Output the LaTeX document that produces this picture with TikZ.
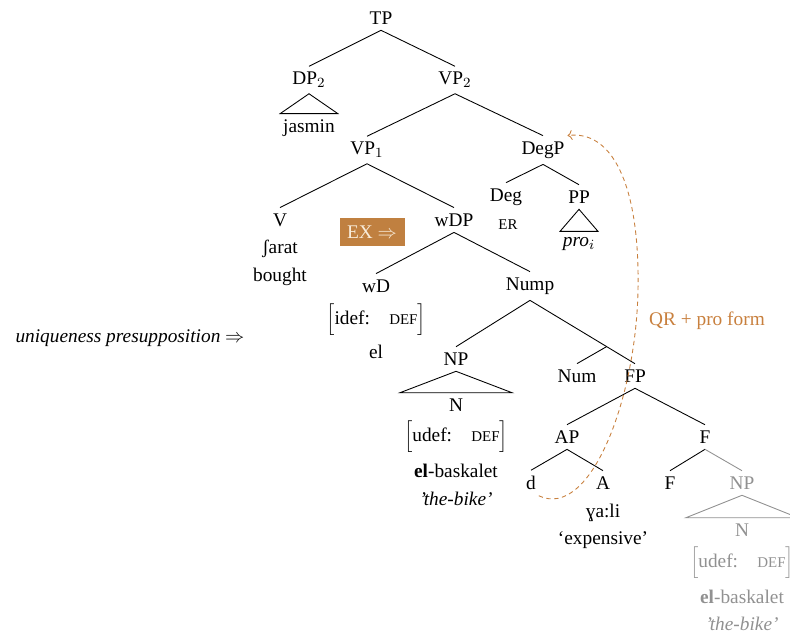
\documentclass[tikz,border=0pt]{standalone}
\usepackage{fontspec}
\setmainfont{Liberation Serif}
\usetikzlibrary{calc, arrows.meta}
\definecolor{qrorange}{RGB}{200, 128, 62}
\definecolor{exbrown}{RGB}{192, 128, 64}
\definecolor{excream}{RGB}{248, 236, 218}
\definecolor{copygray}{RGB}{145, 145, 145}
\newcommand{\fsc}[1]{{\fontsize{8.5}{9}\selectfont #1}}
\newcommand{\featbox}[2]{$\Big[$#1\quad\fsc{#2}$\Big]$}

\begin{document}
\begin{tikzpicture}[x=0.02cm, y=-0.02cm, font=\fontsize{11}{13}\selectfont,
    every node/.style={inner xsep=1.5pt, inner ysep=3.2pt},
    branch/.style={line width=0.5pt},
    copy/.style={text=copygray},
    exbox/.style={fill=exbrown, text=excream, inner sep=0pt, minimum width=1.3cm, minimum height=0.56cm}]
  \useasboundingbox (0,0) rectangle (790,633);

  % upper tree
  \node (tp) at (381,18) {TP};
  \node (dp2) at (309,80) {DP$_2$};
  \node (jasmin) at (309,128) {jasmin};
  \node (vp2) at (455,80) {VP$_2$};
  \node (vp1) at (367,150) {VP$_1$};
  \node (degp) at (543,150) {DegP};
  \node (deg) at (506,197) {Deg};
  \node (er) at (508,225) {\fsc{ER}};
  \node (pp) at (579,197) {PP};
  \node (pro) at (579,244) {\textit{pro}$_i$};
  \node (v) at (280,220) {V};
  \node (sarat) at (280,249) {ʃarat};
  \node (bought) at (280,277) {bought};
  \node[exbox] (ex) at (372,232) {EX $\Rightarrow$};
  \node (wdp) at (454,220) {wDP};

  \draw[branch] (tp.south) -- (dp2.north);
  \draw[branch] (tp.south) -- (vp2.north);
  \draw[branch] (dp2.south) -- (jasmin.north west) -- (jasmin.north east) -- cycle;
  \draw[branch] (vp2.south) -- (vp1.north);
  \draw[branch] (vp2.south) -- (degp.north);
  \draw[branch] (degp.south) -- (deg.north);
  \draw[branch] (degp.south) -- (pp.north);
  \draw[branch] (pp.south) -- (pro.north west) -- (pro.north east) -- cycle;
  \draw[branch] (vp1.south) -- (v.north);
  \draw[branch] (vp1.south) -- (wdp.north);

  % wDP
  \node (wd) at (376,286) {wD};
  \node (idef) at (376,320) {\featbox{idef:}{DEF}};
  \node (el) at (376,352) {el};
  \node (nump) at (530,286) {Nump};
  \node (np) at (456,359) {NP};
  \node (n) at (456,405) {N};
  \node (udef) at (456,437) {\featbox{udef:}{DEF}};
  \node (elbask) at (456,471) {\textbf{el}-baskalet};
  \node (bike) at (456,499) {\textit{’the-bike’}};
  \node (num) at (577,376) {Num};
  \node (fp) at (635,376) {FP};

  \draw[branch] (wdp.south) -- (wd.north);
  \draw[branch] (wdp.south) -- (nump.north);
  \draw[branch] (nump.south) -- (np.north);
  \draw[branch] (nump.south) -- (fp.north);
  \coordinate (numbr) at ($(nump.south)!0.73!(fp.north)$);
  \draw[branch] (numbr) -- (num.north);
  \draw[branch] (np.south) -- ($(n.north)+(-56,0)$) -- ($(n.north)+(56,0)$) -- cycle;

  % FP
  \node (ap) at (567,437) {AP};
  \node (f1) at (705,437) {F};
  \node (d) at (531,483) {d};
  \node (a) at (603,483) {A};
  \node (yali) at (603,513) {ɣa:li};
  \node (expensive) at (603,540) {‘expensive’};
  \node (f2) at (670,483) {F};
  \node[copy] (np2) at (742,483) {NP};
  \node[copy] (n2) at (742,530) {N};
  \node[copy] (udef2) at (742,563) {\featbox{udef:}{DEF}};
  \node[copy] (elbask2) at (742,597) {\textbf{el}-baskalet};
  \node[copy] (bike2) at (742,624) {\textit{’the-bike’}};

  \draw[branch] (fp.south) -- (ap.north);
  \draw[branch] (fp.south) -- (f1.north);
  \draw[branch] (ap.south) -- (d.north);
  \draw[branch] (ap.south) -- (a.north);
  \draw[branch] (f1.south) -- (f2.north);
  \draw[branch, copygray] (f1.south) -- (np2.north);
  \draw[branch, copygray] (np2.south) -- ($(n2.north)+(-56,0)$) -- ($(n2.north)+(56,0)$) -- cycle;

  % movement
  \node[text=qrorange] (qr) at (707,321) {QR + pro form};
  \draw[qrorange, line width=0.5pt, dash pattern=on 2.5pt off 2pt, ->]
    (d.south east) .. controls (590,520) and (636,400) .. (638,290)
    .. controls (640,180) and (610,130) .. (degp.north east);

  \node (uniq) at (130,338) {\textit{uniqueness presupposition} $\Rightarrow$};
\end{tikzpicture}
\end{document}
